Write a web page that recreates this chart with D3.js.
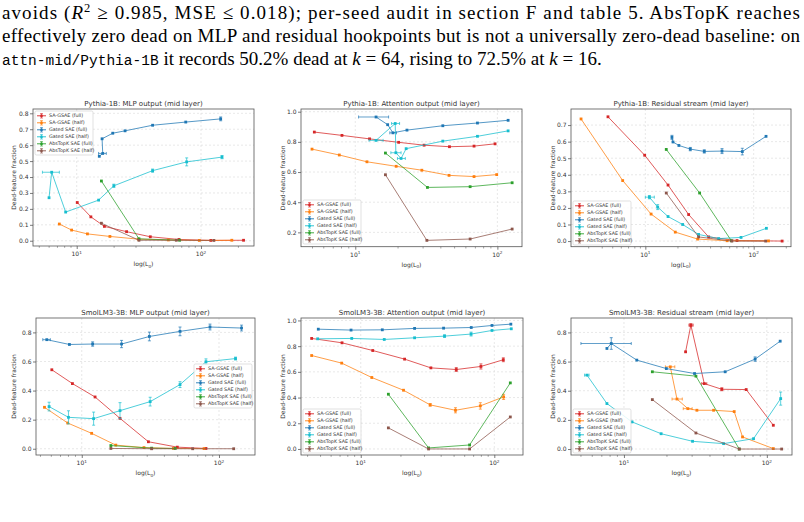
<!DOCTYPE html>
<html lang="en">
<head>
<meta charset="UTF-8">
<title>Dead-feature fraction vs L0</title>
<script src="https://d3js.org/d3.v7.min.js"></script>
<style>
  body { margin: 0; background: #fff; }
  svg { display: block; }
  .plot text { font-family: "DejaVu Sans", sans-serif; fill: #333; }
</style>
</head>
<body>
<div id="fig"></div>
<script>
// ---- data (x = L0, y = dead-feature fraction, optional ye, xlo, xhi) ----
const seriesLabels = ["SA-GSAE (full)", "SA-GSAE (half)", "Gated SAE (full)", "Gated SAE (half)", "AbsTopK SAE (full)", "AbsTopK SAE (half)"];
const panelTitles = [
  "Pythia-1B: MLP output (mid layer)", "Pythia-1B: Attention output (mid layer)", "Pythia-1B: Residual stream (mid layer)",
  "SmolLM3-3B: MLP output (mid layer)", "SmolLM3-3B: Attention output (mid layer)", "SmolLM3-3B: Residual stream (mid layer)"
];
const panelYTicks = [
  [0, 0.1, 0.2, 0.3, 0.4, 0.5, 0.6, 0.7, 0.8],
  [0.2, 0.4, 0.6, 0.8, 1.0],
  [0, 0.1, 0.2, 0.3, 0.4, 0.5, 0.6, 0.7],
  [0, 0.2, 0.4, 0.6, 0.8],
  [0, 0.2, 0.4, 0.6, 0.8, 1.0],
  [0, 0.2, 0.4, 0.6, 0.8]
];
const xTickValues = [10, 100];

// Pythia-1B MLP
const pyMlpSaFull = [[10.1,0.24],[13.0,0.15],[16.7,0.09],[25.2,0.057],[39.1,0.025],[66.5,0.008],[120,0.002],[220,0.003]];
const pyMlpSaHalf = [[7.25,0.105],[9.1,0.067],[12.2,0.043],[18.5,0.027],[31.3,0.01],[54.6,0.005],[97,0.002],[177,0.003]];
const pyMlpGatedFull = [[15.2,0.53],[16.2,0.548,0,15.0,17.3],[16.0,0.64],[19.5,0.675],[24.5,0.69],[40.8,0.725],[75.4,0.745],[144,0.765,0.012]];
const pyMlpGatedHalf = [[5.99,0.27],[6.29,0.43,0,5.3,7.25],[8.15,0.18],[15.0,0.255],[19.9,0.345,0.01],[40.8,0.44,0.01],[76.7,0.495,0.025],[147.6,0.525,0.01]];
const pyMlpTopkFull = [[15.8,0.375],[31.7,0.012],[67.3,0.003]];
const pyMlpTopkHalf = [[15.8,0.11],[31.7,0.003],[63.3,0.003],[127,0.002]];

// Pythia-1B attention
const pyAttnSaFull = [[5.15,0.865],[8.06,0.843],[12.6,0.82],[20.2,0.797],[30.5,0.778],[46.0,0.768],[68.5,0.772],[96.3,0.787]];
const pyAttnSaHalf = [[4.96,0.752],[7.72,0.713],[12.08,0.668],[19.4,0.638],[29.4,0.612],[45.7,0.578],[68.5,0.57],[98.9,0.583]];
const pyAttnGatedFull = [[14.0,0.965,0,10.55,17.16],[16.9,0.914],[18.4,0.86,0,17.5,19.5],[23.1,0.878],[41.3,0.907],[72.4,0.925],[119,0.943]];
const pyAttnGatedHalf = [[14.0,0.81,0,12.5,15.7],[19.1,0.922,0,18.0,20.5],[19.3,0.728,0,17.8,21.0],[21.0,0.69,0,19.8,22.5],[22.8,0.755],[41.3,0.805],[72.4,0.837],[119,0.873]];
const pyAttnTopkFull = [[16.3,0.726],[32.2,0.498],[64.3,0.503],[127,0.529]];
const pyAttnTopkHalf = [[16.3,0.582],[31.9,0.147],[64.3,0.156],[127,0.222]];

// Pythia-1B residual
const pyResSaFull = [[4.52,0.75],[9.86,0.518],[16.2,0.338],[25.1,0.16],[38.4,0.025],[70.2,0.003],[183,0.0]];
const pyResSaHalf = [[2.55,0.737],[6.18,0.365],[11.3,0.163],[18.9,0.054],[30.4,0.012],[56.8,0.002],[137,0.001]];
const pyResGatedFull = [[17.6,0.626,0.012],[18.0,0.598],[20.4,0.577],[26.0,0.555,0.01],[35.0,0.541,0.01],[51.0,0.543,0.015],[78.5,0.54,0.02],[130,0.632]];
const pyResGatedHalf = [[10.9,0.265,0.01,10.0,12.1],[13.0,0.205,0.015],[16.2,0.148],[22.1,0.1],[31.0,0.04],[47.5,0.015],[76.4,0.022],[131,0.077]];
const pyResTopkFull = [[15.6,0.553],[31.7,0.29],[62.2,0.002]];
const pyResTopkHalf = [[15.6,0.29],[31.0,0.025],[62.9,0.0],[129,0.0]];

// SmolLM3-3B MLP
const smMlpSaFull = [[6.05,0.543],[8.55,0.448],[12.5,0.356],[19.0,0.209],[30.6,0.048],[49.7,0.011],[80.4,0.002]];
const smMlpSaHalf = [[5.35,0.285],[7.9,0.177],[11.8,0.106],[17.7,0.025],[28.4,0.008],[46.5,0.002],[77.8,0.001]];
const smMlpGatedFull = [[5.56,0.75,0,5.2,5.9],[8.13,0.717],[12.0,0.72,0.015],[19.5,0.72,0.025],[31.1,0.772,0.03],[52.0,0.807,0.03],[86.0,0.837,0.02],[146,0.83,0.02]];
const smMlpGatedHalf = [[5.78,0.29,0.03],[8.0,0.216,0.045],[12.2,0.207,0.045],[19.0,0.262,0.055],[31.5,0.324,0.03],[52,0.441,0.02],[80.4,0.598,0.02],[132,0.62,0.01]];
const smMlpTopkFull = [[16.3,0.022],[32.3,0.004],[48,0.002]];
const smMlpTopkHalf = [[16.3,0.002],[32.3,0.0],[64.3,0.0],[128,0.0]];

// SmolLM3-3B attention
const smAttnSaFull = [[4.29,0.86],[7.24,0.826],[12.3,0.766],[21.3,0.699],[33.5,0.631],[51.9,0.618,0.015],[79.4,0.642,0.02],[116.8,0.694,0.015]];
const smAttnSaHalf = [[4.29,0.727],[7.2,0.668],[12.1,0.556],[20.9,0.457],[33.1,0.343,0.01],[51.2,0.301,0.02],[78.6,0.335,0.025],[117.4,0.405,0.02]];
const smAttnGatedFull = [[4.81,0.932],[8.46,0.925],[14.5,0.927],[25.3,0.938],[41.7,0.94],[67.2,0.945],[96.1,0.961],[133,0.971]];
const smAttnGatedHalf = [[4.76,0.857],[8.56,0.86],[15.0,0.852],[25.3,0.865],[42.4,0.878,0.01],[67.0,0.894,0.015],[96.1,0.922],[134,0.935]];
const smAttnTopkFull = [[16.1,0.426],[32.2,0.008],[65.3,0.031],[131.8,0.514]];
const smAttnTopkHalf = [[16.1,0.164],[32.2,0.0],[65.3,0.0],[131.8,0.249]];

// SmolLM3-3B residual
const smResSaFull = [[27.0,0.667],[29.4,0.85,0.01,28.5,30.5],[36.5,0.449,0,35.0,38.0],[48.4,0.41,0.01],[71.7,0.408],[111,0.163]];
const smResSaHalf = [[21.1,0.564,0,19.5,22.7],[23.5,0.343,0,21.7,25.6],[28.0,0.277,0,26.0,30.0],[32.4,0.266],[42.4,0.266],[59.1,0.257],[67.6,0.083],[111,0.003]];
const smResGatedFull = [[7.6,0.69],[8.15,0.724,0.04,5.0,11.25],[12.3,0.61],[19.8,0.552],[31.2,0.518],[51.1,0.53],[82.8,0.617,0.015],[124,0.74]];
const smResGatedHalf = [[5.51,0.507,0,5.3,5.7],[7.6,0.312],[11.4,0.186],[18.2,0.105],[30.2,0.053],[49.8,0.037],[80.7,0.071],[125,0.346,0.045]];
const smResTopkFull = [[15.8,0.53],[31.9,0.5],[64.1,0.0]];
const smResTopkHalf = [[15.8,0.339],[31.9,0.11],[64.1,0.0],[127,0.0]];

const panelSeries = [
  [pyMlpSaFull, pyMlpSaHalf, pyMlpGatedFull, pyMlpGatedHalf, pyMlpTopkFull, pyMlpTopkHalf],
  [pyAttnSaFull, pyAttnSaHalf, pyAttnGatedFull, pyAttnGatedHalf, pyAttnTopkFull, pyAttnTopkHalf],
  [pyResSaFull, pyResSaHalf, pyResGatedFull, pyResGatedHalf, pyResTopkFull, pyResTopkHalf],
  [smMlpSaFull, smMlpSaHalf, smMlpGatedFull, smMlpGatedHalf, smMlpTopkFull, smMlpTopkHalf],
  [smAttnSaFull, smAttnSaHalf, smAttnGatedFull, smAttnGatedHalf, smAttnTopkFull, smAttnTopkHalf],
  [smResSaFull, smResSaHalf, smResGatedFull, smResGatedHalf, smResTopkFull, smResTopkHalf]
];

// ---- layout ----
const colors = ["#d62728", "#ff7f0e", "#1f77b4", "#17becf", "#2ca02c", "#8c564b"];
const panels = [
  { l: 33,  r: 254, t: 109, b: 246,   xd: [4.45, 267], yd: [-0.033, 0.827], ylab: 14,  leg: [35, 111] },
  { l: 301, r: 522, t: 109, b: 246.7, xd: [4.15, 149], yd: [0.105, 1.018],  ylab: 283, leg: [303, 200] },
  { l: 571, r: 791, t: 109, b: 246.7, xd: [2.06, 221], yd: [-0.034, 0.797], ylab: 553, leg: [573, 201] },
  { l: 36,  r: 255, t: 318, b: 455,   xd: [4.64, 183], yd: [-0.043, 0.899], ylab: 14,  leg: [194, 364] },
  { l: 301, r: 523, t: 318, b: 455,   xd: [3.57, 164], yd: [-0.047, 1.019], ylab: 283, leg: [303, 409] },
  { l: 571, r: 792, t: 318, b: 455,   xd: [4.26, 150], yd: [-0.041, 0.899], ylab: 553, leg: [573, 409] }
];

const W = 804, H = 522;
const svg = d3.select("#fig").append("svg").attr("width", W).attr("height", H);

// ---- body text above the figure ----
const serif = "'Liberation Serif', 'Times New Roman', Times, serif";
const mono = "'Liberation Mono', 'DejaVu Sans Mono', monospace";
function bodyLine(yy, len) {
  const t = svg.append("text").attr("x", 2).attr("y", yy)
    .attr("font-family", serif).attr("font-size", 19).attr("fill", "#000");
  if (len) t.attr("textLength", len).attr("lengthAdjust", "spacing");
  return t;
}
const t1 = bodyLine(19, 798);
t1.append("tspan").text("avoids (");
t1.append("tspan").attr("font-style", "italic").text("R");
t1.append("tspan").attr("dy", -7).attr("font-size", 12.5).text("2");
t1.append("tspan").attr("dy", 7).text(" \u2265 0.985, MSE \u2264 0.018); per-seed audit in section F and table 5.  AbsTopK reaches");

bodyLine(42, 798).text("effectively zero dead on MLP and residual hookpoints but is not a universally zero-dead baseline: on");

const t3 = bodyLine(65);
t3.append("tspan").attr("font-family", mono).attr("font-size", 14.5).text("attn-mid/Pythia-1B");
t3.append("tspan").text(" it records 50.2% dead at ");
t3.append("tspan").attr("font-style", "italic").text("k");
t3.append("tspan").text(" = 64, rising to 72.5% at ");
t3.append("tspan").attr("font-style", "italic").text("k");
t3.append("tspan").text(" = 16.");

// ---- panels ----
panels.forEach((p, pi) => {
  const g = svg.append("g").attr("class", "plot");
  const x = d3.scaleLog().domain(p.xd).range([p.l, p.r]);
  const y = d3.scaleLinear().domain(p.yd).range([p.b, p.t]);

  // grid
  g.append("g").selectAll("line").data(xTickValues).join("line")
    .attr("x1", d => x(d)).attr("x2", d => x(d)).attr("y1", p.t).attr("y2", p.b)
    .attr("stroke", "#d8d8d8").attr("stroke-width", 0.6).attr("stroke-dasharray", "2,2");
  g.append("g").selectAll("line").data(panelYTicks[pi]).join("line")
    .attr("x1", p.l).attr("x2", p.r).attr("y1", d => y(d)).attr("y2", d => y(d))
    .attr("stroke", "#d8d8d8").attr("stroke-width", 0.6).attr("stroke-dasharray", "2,2");

  // axes
  const minor = [];
  for (let dec = 1; dec <= 1000; dec *= 10)
    for (let m = 1; m < 10; m++) {
      const v = m * dec;
      if (v >= p.xd[0] && v <= p.xd[1] && !xTickValues.includes(v)) minor.push(v);
    }
  const xAxis = g.append("g").attr("transform", `translate(0,${p.b})`)
    .call(d3.axisBottom(x).tickValues(xTickValues).tickSize(3).tickFormat(""));
  xAxis.select(".domain").remove();
  xAxis.selectAll("line").attr("stroke", "#444").attr("stroke-width", 0.7);
  g.append("g").selectAll("line").data(minor).join("line")
    .attr("x1", d => x(d)).attr("x2", d => x(d)).attr("y1", p.b).attr("y2", p.b + 1.8)
    .attr("stroke", "#444").attr("stroke-width", 0.5);
  const xl = g.append("g").selectAll("text").data(xTickValues).join("text")
    .attr("x", d => x(d)).attr("y", p.b + 10).attr("text-anchor", "middle").attr("font-size", 6);
  xl.append("tspan").text("10");
  xl.append("tspan").attr("dy", -2.5).attr("font-size", 4.2).text(d => Math.round(Math.log10(d)));

  const yAxis = g.append("g").attr("transform", `translate(${p.l},0)`)
    .call(d3.axisLeft(y).tickValues(panelYTicks[pi]).tickSize(3).tickFormat(d3.format(".1f")));
  yAxis.select(".domain").remove();
  yAxis.selectAll("line").attr("stroke", "#444").attr("stroke-width", 0.7);
  yAxis.selectAll("text").attr("font-size", 6).attr("font-family", "DejaVu Sans").attr("fill", "#333").attr("x", -4.5);

  // frame
  g.append("rect").attr("x", p.l).attr("y", p.t).attr("width", p.r - p.l).attr("height", p.b - p.t)
    .attr("fill", "none").attr("stroke", "#555").attr("stroke-width", 0.8);

  // labels
  g.append("text").attr("x", (p.l + p.r) / 2).attr("y", p.t - 3).attr("text-anchor", "middle")
    .attr("font-size", 7).text(panelTitles[pi]);
  const xlab = g.append("text").attr("x", (p.l + p.r) / 2).attr("y", p.b + 20).attr("text-anchor", "middle").attr("font-size", 6);
  xlab.append("tspan").text("log(L");
  xlab.append("tspan").attr("dy", 1.5).attr("font-size", 4.2).text("0");
  xlab.append("tspan").attr("dy", -1.5).text(")");
  g.append("text").attr("transform", `translate(${p.ylab},${(p.t + p.b) / 2}) rotate(-90)`)
    .attr("text-anchor", "middle").attr("dy", "0.35em").attr("font-size", 6).text("Dead-feature fraction");

  // series
  const clip = "clip" + pi;
  g.append("clipPath").attr("id", clip).append("rect")
    .attr("x", p.l).attr("y", p.t).attr("width", p.r - p.l).attr("height", p.b - p.t);
  const plot = g.append("g").attr("clip-path", `url(#${clip})`);
  const line = d3.line().x(d => x(d[0])).y(d => y(d[1]));

  panelSeries[pi].forEach((pts, si) => {
    const c = colors[si];
    const sg = plot.append("g");
    sg.append("path").datum(pts).attr("d", line).attr("fill", "none")
      .attr("stroke", c).attr("stroke-width", 0.9).attr("stroke-opacity", 0.85);
    // error bars
    pts.filter(d => d[2]).forEach(d => {
      const cx = x(d[0]), y0 = y(d[1] - d[2]), y1 = y(d[1] + d[2]);
      sg.append("line").attr("x1", cx).attr("x2", cx).attr("y1", y0).attr("y2", y1).attr("stroke", c).attr("stroke-width", 0.7);
      [y0, y1].forEach(yy => sg.append("line").attr("x1", cx - 1.5).attr("x2", cx + 1.5).attr("y1", yy).attr("y2", yy).attr("stroke", c).attr("stroke-width", 0.7));
    });
    pts.filter(d => d.length > 3).forEach(d => {
      const cy = y(d[1]), x0 = x(d[3]), x1 = x(d[4]);
      sg.append("line").attr("x1", x0).attr("x2", x1).attr("y1", cy).attr("y2", cy).attr("stroke", c).attr("stroke-width", 0.7);
      [x0, x1].forEach(xx => sg.append("line").attr("x1", xx).attr("x2", xx).attr("y1", cy - 1.5).attr("y2", cy + 1.5).attr("stroke", c).attr("stroke-width", 0.7));
    });
    sg.selectAll("rect.m").data(pts).join("rect").attr("class", "m")
      .attr("x", d => x(d[0]) - 1.4).attr("y", d => y(d[1]) - 1.4).attr("width", 2.8).attr("height", 2.8)
      .attr("fill", c);
  });

  // legend
  const [lx, ly] = p.leg;
  const lg = g.append("g").attr("transform", `translate(${lx},${ly})`);
  lg.append("rect").attr("width", 58).attr("height", 44).attr("rx", 1.5)
    .attr("fill", "#fff").attr("fill-opacity", 0.85).attr("stroke", "#ccc").attr("stroke-width", 0.6);
  seriesLabels.forEach((lab, si) => {
    const yy = 4.8 + si * 7;
    const c = colors[si];
    lg.append("line").attr("x1", 2).attr("x2", 11).attr("y1", yy).attr("y2", yy).attr("stroke", c).attr("stroke-width", 0.9);
    lg.append("line").attr("x1", 6.5).attr("x2", 6.5).attr("y1", yy - 2.2).attr("y2", yy + 2.2).attr("stroke", c).attr("stroke-width", 0.7);
    lg.append("line").attr("x1", 5).attr("x2", 8).attr("y1", yy - 2.2).attr("y2", yy - 2.2).attr("stroke", c).attr("stroke-width", 0.6);
    lg.append("line").attr("x1", 5).attr("x2", 8).attr("y1", yy + 2.2).attr("y2", yy + 2.2).attr("stroke", c).attr("stroke-width", 0.6);
    lg.append("rect").attr("x", 5.3).attr("y", yy - 1.2).attr("width", 2.4).attr("height", 2.4).attr("fill", c);
    lg.append("text").attr("x", 14).attr("y", yy).attr("dy", "0.35em").attr("font-size", 4.8).text(lab);
  });
});
</script>
</body>
</html>
